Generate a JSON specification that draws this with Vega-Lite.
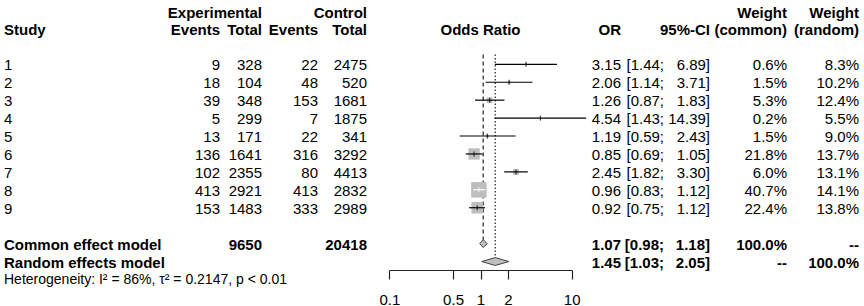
{
  "$schema": "https://vega.github.io/schema/vega-lite/v6.json",
  "width": 864,
  "height": 270,
  "autosize": {"type": "none"},
  "padding": {"left": 0, "top": 0, "right": 0, "bottom": 36},
  "background": "white",
  "config": {
    "view": {"stroke": null},
    "text": {"font": "Liberation Sans", "fontSize": 15, "color": "black", "baseline": "middle"}
  },
  "datasets": {
    "rows": [
      {"line": 1, "label": "1", "e_ev": 9, "e_tot": 328, "c_ev": 22, "c_tot": 2475, "or": 3.15, "lo": 1.44, "hi": 6.89, "w_c": 0.6, "w_r": 8.3},
      {"line": 2, "label": "2", "e_ev": 18, "e_tot": 104, "c_ev": 48, "c_tot": 520, "or": 2.06, "lo": 1.14, "hi": 3.71, "w_c": 1.5, "w_r": 10.2},
      {"line": 3, "label": "3", "e_ev": 39, "e_tot": 348, "c_ev": 153, "c_tot": 1681, "or": 1.26, "lo": 0.87, "hi": 1.83, "w_c": 5.3, "w_r": 12.4},
      {"line": 4, "label": "4", "e_ev": 5, "e_tot": 299, "c_ev": 7, "c_tot": 1875, "or": 4.54, "lo": 1.43, "hi": 14.39, "w_c": 0.2, "w_r": 5.5},
      {"line": 5, "label": "5", "e_ev": 13, "e_tot": 171, "c_ev": 22, "c_tot": 341, "or": 1.19, "lo": 0.59, "hi": 2.43, "w_c": 1.5, "w_r": 9.0},
      {"line": 6, "label": "6", "e_ev": 136, "e_tot": 1641, "c_ev": 316, "c_tot": 3292, "or": 0.85, "lo": 0.69, "hi": 1.05, "w_c": 21.8, "w_r": 13.7},
      {"line": 7, "label": "7", "e_ev": 102, "e_tot": 2355, "c_ev": 80, "c_tot": 4413, "or": 2.45, "lo": 1.82, "hi": 3.30, "w_c": 6.0, "w_r": 13.1},
      {"line": 8, "label": "8", "e_ev": 413, "e_tot": 2921, "c_ev": 413, "c_tot": 2832, "or": 0.96, "lo": 0.83, "hi": 1.12, "w_c": 40.7, "w_r": 14.1},
      {"line": 9, "label": "9", "e_ev": 153, "e_tot": 1483, "c_ev": 333, "c_tot": 2989, "or": 0.92, "lo": 0.75, "hi": 1.12, "w_c": 22.4, "w_r": 13.8},
      {"line": 11, "label": "Common effect model", "e_tot": 9650, "c_tot": 20418, "or": 1.07, "lo": 0.98, "hi": 1.18, "w_c": 100.0},
      {"line": 12, "label": "Random effects model", "or": 1.45, "lo": 1.03, "hi": 2.05, "w_r": 100.0}
    ],
    "headers": [
      {"line": -2, "col": 2, "text": "Experimental"},
      {"line": -2, "col": 4, "text": "Control"},
      {"line": -2, "col": 8, "text": "Weight"},
      {"line": -2, "col": 9, "text": "Weight"},
      {"line": -1, "col": 0, "text": "Study"},
      {"line": -1, "col": 1, "text": "Events"},
      {"line": -1, "col": 2, "text": "Total"},
      {"line": -1, "col": 3, "text": "Events"},
      {"line": -1, "col": 4, "text": "Total"},
      {"line": -1, "col": 5, "text": "OR"},
      {"line": -1, "col": 7, "text": "95%-CI"},
      {"line": -1, "col": 8, "text": "(common)"},
      {"line": -1, "col": 9, "text": "(random)"}
    ],
    "notes": [
      {"line": 13, "text": "Heterogeneity: I² = 86%, τ² = 0.2147, p < 0.01"}
    ]
  },
  "encoding": {
    "y": {"field": "line", "type": "quantitative", "axis": null,
          "scale": {"domain": [-2.586, 12.472], "reverse": true, "nice": false, "zero": false}}
  },
  "layer": [
    {
      "layer": [
        {
          "data": {"name": "headers"},
          "transform": [{"filter": "datum.col == 0"}],
          "mark": {"type": "text", "align": "left", "fontWeight": "bold", "dy": 2},
          "encoding": {
            "x": {"field": "col", "type": "quantitative", "axis": null,
                  "scale": {"domain": [0,1,2,3,4,5,6,7,8,9], "range": [4,220,262,318,367,621,664,710,787,859], "nice": false, "zero": false}},
            "text": {"field": "text", "type": "nominal"}
          }
        },
        {
          "data": {"name": "headers"},
          "transform": [{"filter": "datum.col > 0"}],
          "mark": {"type": "text", "align": "right", "fontWeight": "bold", "dy": 2},
          "encoding": {
            "x": {"field": "col", "type": "quantitative", "axis": null},
            "text": {"field": "text", "type": "nominal"}
          }
        },
        {
          "data": {"name": "notes"},
          "mark": {"type": "text", "align": "left", "fontSize": 14, "dy": 1},
          "encoding": {
            "x": {"datum": 0, "type": "quantitative", "axis": null},
            "text": {"field": "text", "type": "nominal"}
          }
        },
        {
          "data": {"name": "rows"},
          "mark": {"type": "text", "align": "left", "dy": 1, "fontWeight": {"expr": "datum.line > 10 ? 'bold' : 'normal'"}},
          "encoding": {
            "x": {"datum": 0, "type": "quantitative", "axis": null},
            "text": {"field": "label", "type": "nominal"}
          }
        },
        {
          "data": {"name": "rows"},
          "transform": [{"filter": "isValid(datum.e_ev)"}],
          "mark": {"type": "text", "align": "right", "dy": 1, "fontWeight": {"expr": "datum.line > 10 ? 'bold' : 'normal'"}},
          "encoding": {
            "x": {"datum": 1, "type": "quantitative", "axis": null},
            "text": {"field": "e_ev", "type": "nominal"}
          }
        },
        {
          "data": {"name": "rows"},
          "transform": [{"filter": "isValid(datum.e_tot)"}],
          "mark": {"type": "text", "align": "right", "dy": 1, "fontWeight": {"expr": "datum.line > 10 ? 'bold' : 'normal'"}},
          "encoding": {
            "x": {"datum": 2, "type": "quantitative", "axis": null},
            "text": {"field": "e_tot", "type": "nominal"}
          }
        },
        {
          "data": {"name": "rows"},
          "transform": [{"filter": "isValid(datum.c_ev)"}],
          "mark": {"type": "text", "align": "right", "dy": 1, "fontWeight": {"expr": "datum.line > 10 ? 'bold' : 'normal'"}},
          "encoding": {
            "x": {"datum": 3, "type": "quantitative", "axis": null},
            "text": {"field": "c_ev", "type": "nominal"}
          }
        },
        {
          "data": {"name": "rows"},
          "transform": [{"filter": "isValid(datum.c_tot)"}],
          "mark": {"type": "text", "align": "right", "dy": 1, "fontWeight": {"expr": "datum.line > 10 ? 'bold' : 'normal'"}},
          "encoding": {
            "x": {"datum": 4, "type": "quantitative", "axis": null},
            "text": {"field": "c_tot", "type": "nominal"}
          }
        },
        {
          "data": {"name": "rows"},
          "mark": {"type": "text", "align": "right", "dy": 1, "fontWeight": {"expr": "datum.line > 10 ? 'bold' : 'normal'"}},
          "encoding": {
            "x": {"datum": 5, "type": "quantitative", "axis": null},
            "text": {"field": "or", "type": "quantitative", "format": ".2f"}
          }
        },
        {
          "data": {"name": "rows"},
          "transform": [{"calculate": "'[' + format(datum.lo, '.2f') + ';'", "as": "t"}],
          "mark": {"type": "text", "align": "right", "dy": 1, "fontWeight": {"expr": "datum.line > 10 ? 'bold' : 'normal'"}},
          "encoding": {
            "x": {"datum": 6, "type": "quantitative", "axis": null},
            "text": {"field": "t", "type": "nominal"}
          }
        },
        {
          "data": {"name": "rows"},
          "transform": [{"calculate": "format(datum.hi, '.2f') + ']'", "as": "t"}],
          "mark": {"type": "text", "align": "right", "dy": 1, "fontWeight": {"expr": "datum.line > 10 ? 'bold' : 'normal'"}},
          "encoding": {
            "x": {"datum": 7, "type": "quantitative", "axis": null},
            "text": {"field": "t", "type": "nominal"}
          }
        },
        {
          "data": {"name": "rows"},
          "transform": [{"calculate": "isValid(datum.w_c) ? format(datum.w_c, '.1f') + '%' : '--'", "as": "t"}],
          "mark": {"type": "text", "align": "right", "dy": 1, "fontWeight": {"expr": "datum.line > 10 ? 'bold' : 'normal'"}},
          "encoding": {
            "x": {"datum": 8, "type": "quantitative", "axis": null},
            "text": {"field": "t", "type": "nominal"}
          }
        },
        {
          "data": {"name": "rows"},
          "transform": [{"calculate": "isValid(datum.w_r) ? format(datum.w_r, '.1f') + '%' : '--'", "as": "t"}],
          "mark": {"type": "text", "align": "right", "dy": 1, "fontWeight": {"expr": "datum.line > 10 ? 'bold' : 'normal'"}},
          "encoding": {
            "x": {"datum": 9, "type": "quantitative", "axis": null},
            "text": {"field": "t", "type": "nominal"}
          }
        }
      ]
    },
    {
      "layer": [
        {
          "data": {"values": [{}]},
          "mark": {"type": "rule", "color": "#222", "strokeWidth": 1.2},
          "encoding": {
            "x": {"datum": 1, "type": "quantitative",
                  "scale": {"type": "log", "domain": [0.1, 10], "range": [389.3, 571.7], "nice": false},
                  "axis": {"values": [0.1, 0.5, 1, 2, 10], "format": "~g", "title": null, "grid": false,
                           "tickSize": 9, "tickColor": "#222", "tickWidth": 1.2, "domainColor": "#222", "domainWidth": 1.2,
                           "labelFont": "Liberation Sans", "labelFontSize": 15, "labelColor": "black",
                           "labelPadding": 13, "labelFlush": false, "labelOverlap": false}},
            "y": {"datum": 0.45, "type": "quantitative"},
            "y2": {"datum": 12.472}
          }
        },
        {
          "data": {"name": "rows"},
          "transform": [{"filter": "datum.line == 11"}],
          "mark": {"type": "rule", "color": "#222", "strokeWidth": 1.2, "strokeDash": [4, 3]},
          "encoding": {
            "x": {"field": "or", "type": "quantitative"},
            "y": {"datum": 0.45, "type": "quantitative"},
            "y2": {"datum": 10.78}
          }
        },
        {
          "data": {"name": "rows"},
          "transform": [{"filter": "datum.line == 12"}],
          "mark": {"type": "rule", "color": "#222", "strokeWidth": 1.2, "strokeDash": [1.5, 2]},
          "encoding": {
            "x": {"field": "or", "type": "quantitative"},
            "y": {"datum": 0.45, "type": "quantitative"},
            "y2": {"datum": 11.78}
          }
        },
        {
          "data": {"values": [{"line": -1, "text": "Odds Ratio"}]},
          "mark": {"type": "text", "align": "center", "fontWeight": "bold", "dy": 2},
          "encoding": {
            "x": {"datum": 1, "type": "quantitative"},
            "text": {"field": "text", "type": "nominal"}
          }
        },
        {
          "data": {"name": "rows"},
          "transform": [{"filter": "datum.line < 10"}],
          "mark": {"type": "point", "shape": "square", "filled": true, "color": "#bebebe", "opacity": 1, "strokeWidth": 0},
          "encoding": {
            "x": {"field": "or", "type": "quantitative"},
            "size": {"field": "w_c", "type": "quantitative", "legend": null,
                     "scale": {"domain": [0, 40.7], "range": [0, 240], "zero": true}}
          }
        },
        {
          "data": {"name": "rows"},
          "transform": [{"filter": "datum.line < 10"}],
          "mark": {"type": "rule", "strokeWidth": 1.2},
          "encoding": {
            "x": {"field": "lo", "type": "quantitative"},
            "x2": {"field": "hi"},
            "color": {"condition": {"test": "datum.line == 8", "value": "white"}, "value": "black"}
          }
        },
        {
          "data": {"name": "rows"},
          "transform": [{"filter": "datum.line < 10"}],
          "mark": {"type": "tick", "orient": "vertical", "size": 5, "thickness": 1.2},
          "encoding": {
            "x": {"field": "or", "type": "quantitative"},
            "color": {"condition": {"test": "datum.line == 8", "value": "white"}, "value": "black"}
          }
        },
        {
          "data": {"name": "rows"},
          "transform": [
            {"filter": "datum.line > 10"},
            {"fold": ["lo", "or", "hi"], "as": ["k", "v"]},
            {"calculate": "datum.k == 'or' ? 0.22 : 0", "as": "h"},
            {"calculate": "datum.line - datum.h", "as": "yt"},
            {"calculate": "datum.line + datum.h", "as": "yb"}
          ],
          "mark": {"type": "area", "orient": "vertical", "fill": "#bebebe", "stroke": "#444", "strokeWidth": 1, "opacity": 1},
          "encoding": {
            "x": {"field": "v", "type": "quantitative"},
            "y": {"field": "yt", "type": "quantitative"},
            "y2": {"field": "yb"},
            "detail": {"field": "line", "type": "nominal"}
          }
        }
      ]
    }
  ],
  "resolve": {"scale": {"x": "independent"}}
}
